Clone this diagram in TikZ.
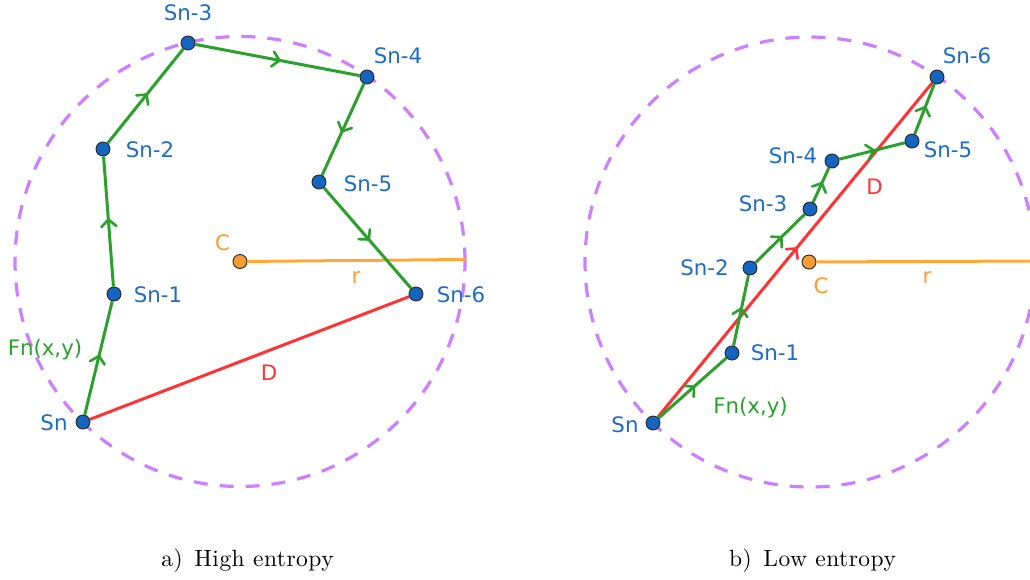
\documentclass[tikz,border=0pt]{standalone}
\usepackage{fontspec}
\newfontfamily\labfont{DejaVu Sans}
\newfontfamily\capfont[LetterSpace=2]{lmroman10-regular.otf}
\usetikzlibrary{decorations.markings}
\definecolor{ptblue}{RGB}{21,101,192}
\definecolor{txtblue}{RGB}{30,108,196}
\definecolor{ggreen}{RGB}{44,160,44}
\definecolor{rred}{RGB}{255,51,51}
\definecolor{oline}{RGB}{255,168,56}
\definecolor{otext}{RGB}{255,153,51}
\definecolor{cdotfill}{RGB}{245,155,50}
\definecolor{ppurple}{RGB}{204,128,255}
\tikzset{
  dot/.style={circle,fill=ptblue,draw=black!85,line width=0.9pt,minimum size=14pt,inner sep=0pt},
  cdot/.style={dot,fill=cdotfill},
  lab/.style={font=\labfont\fontsize{21.3}{24}\selectfont,inner sep=0pt,anchor=base,text=txtblue},
  glab/.style={lab,text=ggreen},
  rlab/.style={lab,text=rred},
  olab/.style={lab,text=otext},
  caption/.style={font=\capfont\fontsize{23.5}{28}\selectfont,inner sep=0pt,anchor=base,text=black},
  chev/.style={postaction={decorate},decoration={markings,mark=at position 0.5 with {\draw[#1,line width=2.6pt,line cap=round,line join=round] (-5pt,7.5pt) -- (2pt,0pt) -- (-5pt,-7.5pt);}}},
  gline/.style={draw=ggreen,line width=3pt,chev=ggreen},
  rline/.style={draw=rred,line width=3pt},
  oline/.style={draw=oline,line width=3pt},
  pcircle/.style={draw=ppurple,line width=3.2pt,dash pattern=on 14pt off 12pt},
}
\begin{document}
\begin{tikzpicture}[x=1pt,y=-1pt]
\useasboundingbox (0,0) rectangle (1030,579);
\clip (0,0) rectangle (1030,579);
% ---------------- left panel ----------------
\coordinate (ac) at (240,261.5);
\coordinate (ar) at (465,259.5);
\draw[pcircle] (ac) circle[radius=225pt];
\node[cdot] (aC) at (ac) {};
\node[dot] (a0) at (83,422) {};
\node[dot] (a1) at (114,294) {};
\node[dot] (a2) at (103,149) {};
\node[dot] (a3) at (188,43) {};
\node[dot] (a4) at (367,77) {};
\node[dot] (a5) at (319,182) {};
\node[dot] (a6) at (416,294) {};
\draw[oline] (aC) -- (ar);
\draw[rline] (a0) -- (a6);
\draw[gline] (a0) -- (a1);
\draw[gline] (a1) -- (a2);
\draw[gline] (a2) -- (a3);
\draw[gline] (a3) -- (a4);
\draw[gline] (a4) -- (a5);
\draw[gline] (a5) -- (a6);
\node[lab] (la3) at (188,20) {Sn-3};
\node[lab] (la4) at (398,63) {Sn-4};
\node[lab] (la2) at (150,157) {Sn-2};
\node[lab] (la5) at (368,191) {Sn-5};
\node[lab] (la1) at (158,302) {Sn-1};
\node[lab] (la6) at (461,302) {Sn-6};
\node[lab] (la0) at (54,430) {Sn};
\node[olab] (laC) at (222.5,250) {C};
\node[olab] (lar) at (356,283) {r};
\node[glab] (laF) at (45,355) {Fn(x,y)};
\node[rlab] (laD) at (269,380) {D};
\node[caption] (capa) at (247.5,566) {a)\hspace{0.5em}High entropy};
% ---------------- right panel ----------------
\coordinate (bc) at (810,262);
\coordinate (br) at (1035,261);
\draw[pcircle] (bc) circle[radius=225pt];
\node[cdot] (bC) at (809,262) {};
\node[dot] (b0) at (653,423) {};
\node[dot] (b1) at (732,353) {};
\node[dot] (b2) at (750,268) {};
\node[dot] (b3) at (810,209) {};
\node[dot] (b4) at (832,161) {};
\node[dot] (b5) at (912,141) {};
\node[dot] (b6) at (937,77) {};
\draw[oline] (bC) -- (br);
\draw[rline,chev=rred] (b0) -- (b6);
\draw[gline] (b0) -- (b1);
\draw[gline] (b1) -- (b2);
\draw[gline] (b2) -- (b3);
\draw[gline] (b3) -- (b4);
\draw[gline] (b4) -- (b5);
\draw[gline] (b5) -- (b6);
\node[lab] (lb6) at (967,63) {Sn-6};
\node[lab] (lb5) at (948,157) {Sn-5};
\node[lab] (lb4) at (793,163) {Sn-4};
\node[lab] (lb3) at (763,211) {Sn-3};
\node[lab] (lb2) at (704.5,275) {Sn-2};
\node[lab] (lb1) at (775,360) {Sn-1};
\node[lab] (lb0) at (625,432) {Sn};
\node[olab] (lbC) at (821,293) {C};
\node[olab] (lbr) at (927,283) {r};
\node[glab] (lbF) at (750.5,413) {Fn(x,y)};
\node[rlab] (lbD) at (874.5,194) {D};
\node[caption] (capb) at (812.5,566) {b)\hspace{0.5em}Low entropy};
\end{tikzpicture}
\end{document}
